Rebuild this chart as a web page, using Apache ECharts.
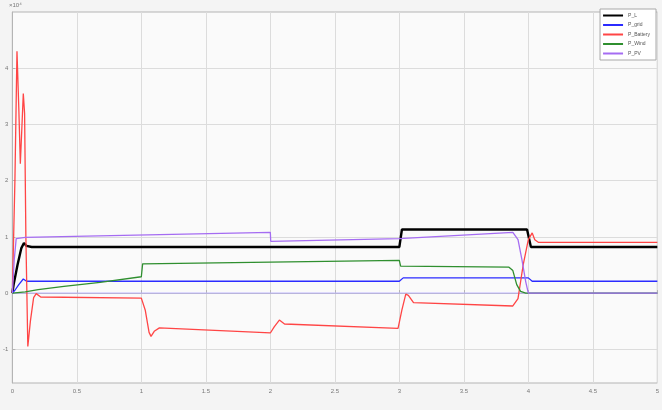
<!DOCTYPE html>
<html>
<head>
<meta charset="utf-8">
<script src="https://cdn.jsdelivr.net/npm/echarts@6/dist/echarts.min.js"></script>
<style>
  html, body { margin: 0; padding: 0; background: #f4f4f4; }
  #chart { width: 662px; height: 410px; }
</style>
</head>
<body>
<div id="chart"></div>
<script>
// Power flows over the simulation (time in s, power in W)
const loadT = [0, 0.01, 0.04, 0.07, 0.09, 0.11, 0.15, 3.0, 3.02, 3.99, 4.02, 5];
const loadV = [0, 1500, 5000, 8000, 8900, 8400, 8200, 8200, 11300, 11300, 8200, 8200];

const gridT = [0, 0.02, 0.05, 0.085, 0.11, 3.0, 3.03, 4.0, 4.03, 5];
const gridV = [0, 500, 1500, 2500, 2100, 2100, 2700, 2700, 2100, 2100];

const battT = [0, 0.02, 0.036, 0.05, 0.062, 0.075, 0.085, 0.095, 0.105, 0.12, 0.14, 0.165, 0.185, 0.22,
               1.0, 1.03, 1.06, 1.075, 1.1, 1.14, 2.0, 2.03, 2.07, 2.11, 2.99, 3.02, 3.05, 3.07, 3.11,
               3.88, 3.92, 3.96, 4.0, 4.03, 4.05, 4.08, 5];
const battV = [0, 20000, 43000, 33000, 23000, 30000, 35500, 32000, 10000, -9500, -5000, -800, -100, -700,
               -900, -3000, -7000, -7700, -6800, -6200, -7100, -6000, -4800, -5500, -6300, -3000, -200, -400, -1700,
               -2300, -1000, 5000, 9500, 10700, 9500, 9000, 9000];

const windT = [0, 0.1, 0.2, 0.4, 0.68, 1.0, 1.01, 2.0, 3.0, 3.01, 3.85, 3.88, 3.91, 3.94, 3.98, 5];
const windV = [0, 200, 600, 1200, 1900, 2900, 5200, 5500, 5800, 4800, 4600, 4000, 1500, 300, 0, 0];

const pvT = [0, 0.015, 0.03, 0.1, 2.0, 2.003, 3.0, 3.88, 3.92, 3.95, 3.98, 4.0, 5];
const pvV = [0, 6000, 9700, 9900, 10800, 9200, 9700, 10800, 9500, 6000, 2000, 0, 0];

const refT = [0, 5];
const refV = [0, 0];

const seriesNames = ['P_L', 'P_grid', 'P_Battery', 'P_Wind', 'P_PV'];
const seriesColors = ['#000000', '#2b2bff', '#ff4545', '#2f8f2f', '#a56cf2'];

const xTicks = [0, 0.5, 1, 1.5, 2, 2.5, 3, 3.5, 4, 4.5, 5];
const yTicks = [-10000, 0, 10000, 20000, 30000, 40000];

function pairs(t, v) { return t.map((x, i) => [x, v[i]]); }

const lineSets = [[loadT, loadV], [gridT, gridV], [battT, battV], [windT, windV], [pvT, pvV]];

const series = [{
  name: 'ref', type: 'line', data: pairs(refT, refV), showSymbol: false,
  lineStyle: { color: '#bcb4ff', width: 1 }, itemStyle: { color: '#bcb4ff' }, z: 1
}];
lineSets.forEach((s, i) => {
  series.push({
    name: seriesNames[i], type: 'line', data: pairs(s[0], s[1]),
    showSymbol: false, animation: false,
    lineStyle: { color: seriesColors[i], width: i === 0 ? 2.4 : 1.3 },
    itemStyle: { color: seriesColors[i] }, z: 2 + i
  });
});

const chart = echarts.init(document.getElementById('chart'), null, { renderer: 'canvas' });
chart.setOption({
  animation: false,
  backgroundColor: '#f4f4f4',
  grid: { left: 12, right: 2, top: 12, bottom: 27, show: true, backgroundColor: '#fafafa',
          borderColor: '#b4b4b4', borderWidth: 1 },
  legend: {
    data: seriesNames, orient: 'vertical', right: 6, top: 9,
    itemWidth: 20, itemHeight: 2, itemGap: 4.5, icon: 'rect',
    backgroundColor: '#ffffff', borderColor: '#a8a8a8', borderWidth: 1, padding: [4, 6, 4, 3],
    textStyle: { fontSize: 5, color: '#555', fontFamily: 'Liberation Sans' }
  },
  graphic: [{
    type: 'text', left: 9, top: 2,
    style: { text: '×10⁴', fontSize: 6, fill: '#777', fontFamily: 'Liberation Sans' }
  }],
  xAxis: {
    type: 'value', min: 0, max: 5, interval: 0.5,
    axisLine: { show: true, lineStyle: { color: '#b4b4b4' } },
    axisTick: { show: true, inside: true, length: 3, lineStyle: { color: '#b4b4b4' } },
    splitLine: { show: true, lineStyle: { color: '#dcdcdc', width: 1 } },
    axisLabel: { fontSize: 6, color: '#777', margin: 5, fontFamily: 'Liberation Sans',
                 formatter: v => String(v) }
  },
  yAxis: {
    type: 'value', min: -16000, max: 50000,
    axisLine: { show: true, lineStyle: { color: '#b4b4b4' } },
    axisTick: { show: true, inside: true, length: 3, customValues: yTicks, lineStyle: { color: '#b4b4b4' } },
    splitLine: { show: true, lineStyle: { color: '#dcdcdc', width: 1 } },
    axisLabel: { fontSize: 6, color: '#777', margin: 4, fontFamily: 'Liberation Sans',
                 customValues: yTicks, formatter: v => String(v / 10000) }
  },
  series: series
});
</script>
</body>
</html>
